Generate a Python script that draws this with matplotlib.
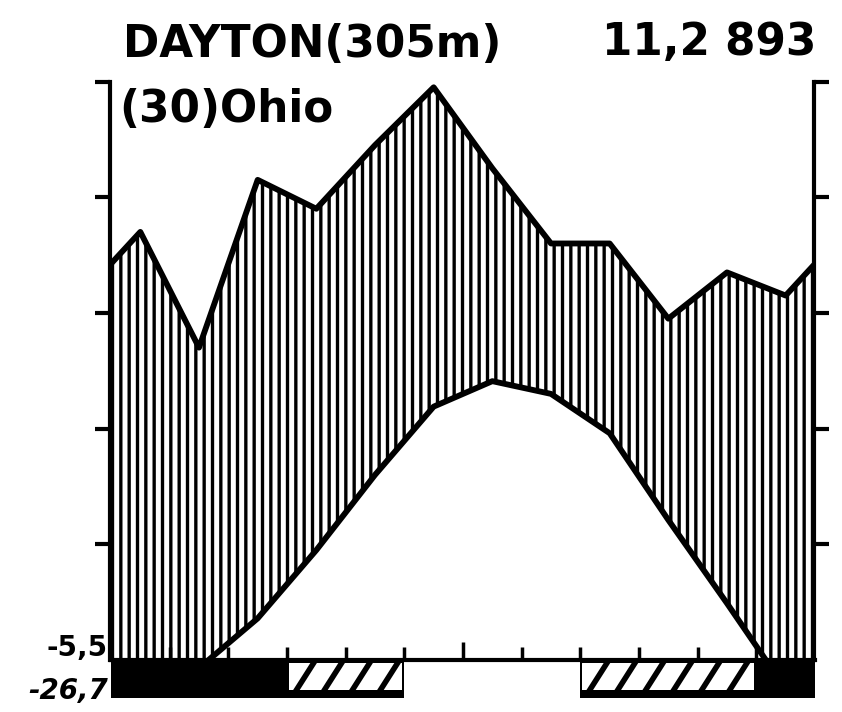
import matplotlib

matplotlib.use("Agg")

import matplotlib.pyplot as plt
import numpy as np
from matplotlib.patches import Rectangle

# Walter-Lieth climate diagram, Dayton (Ohio)
station = "DAYTON(305m)"
region = "(30)Ohio"
annual = "11,2 893"
min_labels = ["-5,5", "-26,7"]

temp_c = [-2.8, -0.7, 3.6, 9.5, 16.0, 21.9, 24.1, 23.0, 19.6, 12.1, 4.9, -2.5]
precip_mm = [74, 54, 83, 78, 89, 99, 85, 72, 72, 59, 67, 63]
# frost: black = mean daily min below 0, hatch = absolute min below 0
frost = ["black", "black", "black", "hatch", "hatch", "none",
         "none", "none", "hatch", "hatch", "hatch", "black"]
scale_ticks = [10, 20, 30, 40, 50]

W, H = 842, 712
PX_C = 11.57      # pixels per degree
PX_M = 58.67      # pixels per month
base_px = 660
y_lo, y_hi = -4.0, 52.0

plt.rcParams["hatch.linewidth"] = 2.4

fig = plt.figure(figsize=(W / 100, H / 100), dpi=100, facecolor="white")
bottom_px = base_px - y_lo * PX_C
top_px = base_px - y_hi * PX_C
ax = fig.add_axes([111 / W, (H - bottom_px) / H, 704 / W, (bottom_px - top_px) / H])
ax.set_xlim(0, 12)
ax.set_ylim(y_lo, y_hi)
ax.patch.set_alpha(0)

temp = np.array(temp_c)
prec = np.array(precip_mm) / 2.0  # 20 mm = 10 degC
xs = np.concatenate([[0], np.arange(12) + 0.5, [12]])
t_ext = np.concatenate([[(temp[-1] + temp[0]) / 2], temp, [(temp[-1] + temp[0]) / 2]])
p_ext = np.concatenate([[(prec[-1] + prec[0]) / 2], prec, [(prec[-1] + prec[0]) / 2]])

# humid period
ax.fill_between(xs, t_ext, p_ext, where=p_ext > t_ext, interpolate=True,
                facecolor="none", edgecolor="black", hatch="||", linewidth=0, zorder=1)
ax.plot(xs, p_ext, color="black", lw=4.2, solid_joinstyle="round", zorder=3)
ax.plot(xs, t_ext, color="black", lw=4.2, solid_joinstyle="round", zorder=3)

# frost bar below the base line
bar_h = 38 / PX_C
for i, kind in enumerate(frost):
    if kind != "none":
        ax.add_patch(Rectangle((i, -bar_h), 1, bar_h, facecolor="black",
                               edgecolor="none", zorder=4))

runs = []
for i, kind in enumerate(frost):
    if kind == "hatch":
        if runs and runs[-1][1] == i:
            runs[-1][1] = i + 1
        else:
            runs.append([i, i + 1])

for a, b in runs:
    x0 = a + 2 / PX_M
    x1 = b - 2 / PX_M
    y0 = -30 / PX_C
    y1 = -3 / PX_C
    inner = Rectangle((x0, y0), x1 - x0, y1 - y0, facecolor="white",
                      edgecolor="none", zorder=5)
    ax.add_patch(inner)
    step = 28 / PX_M
    lean = 0.45
    for s in np.arange(x0 - lean, x1 + step, step):
        ln, = ax.plot([s, s + lean], [-bar_h - 0.1, 0.2], color="black",
                      lw=4, zorder=6, solid_capstyle="butt")
        ln.set_clip_path(inner)

# axes frame: left/right scales and base line with month ticks
ax.spines["top"].set_visible(False)
ax.spines["left"].set_bounds(0, 50)
ax.spines["right"].set_bounds(0, 50)
ax.spines["left"].set_position(("data", -0.02))
ax.spines["right"].set_position(("data", 11.98))
ax.spines["bottom"].set_position(("data", 0))
ax.spines["bottom"].set_bounds(0, 12)
for sp in ["left", "right", "bottom"]:
    ax.spines[sp].set_linewidth(3)
    ax.spines[sp].set_zorder(7)

ax.set_yticks(scale_ticks)
ax.yaxis.set_ticks_position("both")
ax.tick_params(axis="y", which="major", direction="out", length=10.5, width=3,
               labelleft=False, labelright=False)
ax.set_xticks([6])
ax.set_xticks([m for m in range(1, 12) if m != 6], minor=True)
ax.tick_params(axis="x", which="major", direction="in", length=13, width=2.5,
               labelbottom=False)
ax.tick_params(axis="x", which="minor", direction="in", length=9.5, width=2.5)
ax.xaxis.set_zorder(7)
ax.yaxis.set_zorder(7)

# titles
fig.text(123 / W, 1 - 57 / H, station, fontsize=31.5, fontweight="bold", va="baseline")
fig.text(816 / W, 1 - 55 / H, annual, fontsize=31.5, fontweight="bold",
         va="baseline", ha="right")
fig.text(119 / W, 1 - 122 / H, region, fontsize=31.5, fontweight="bold", va="baseline")

fig.text(108 / W, 1 - 656 / H, min_labels[0], fontsize=20, fontweight="bold",
         va="baseline", ha="right")
fig.text(108 / W, 1 - 699 / H, min_labels[1], fontsize=20, fontweight="bold",
         style="italic", va="baseline", ha="right")

fig.savefig("out.png", dpi=100, facecolor="white")
plt.close(fig)
